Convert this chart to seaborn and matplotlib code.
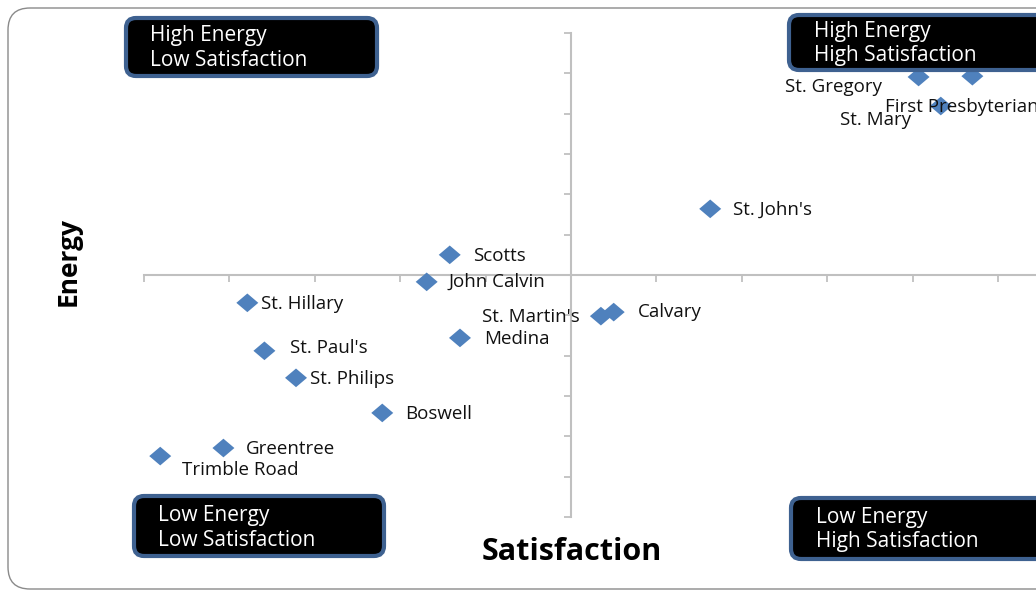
import numpy as np
import pandas as pd
import seaborn as sns
import matplotlib
matplotlib.use("Agg")
import matplotlib.pyplot as plt
import matplotlib.patches as mpatches
import matplotlib.transforms as mtransforms
from matplotlib.path import Path

# ---------------- data ----------------
churches = ["St. Gregory", "First Presbyterian", "St. Mary", "St. John's", "Scotts",
            "John Calvin", "St. Hillary", "St. Martin's", "Calvary", "Medina",
            "St. Paul's", "St. Philips", "Boswell", "Greentree", "Trimble Road"]
satisfaction = [4.07, 4.70, 4.33, 1.63, -1.42, -1.69, -3.79, 0.35, 0.50, -1.30,
                -3.59, -3.22, -2.21, -4.07, -4.81]
energy = [4.91, 4.93, 4.19, 1.64, 0.50, -0.17, -0.69, -1.02, -0.92, -1.56,
          -1.88, -2.55, -3.42, -4.29, -4.49]
quadrant_titles = [("High Energy", "Low Satisfaction"), ("High Energy", "High Satisfaction"),
                   ("Low Energy", "Low Satisfaction"), ("Low Energy", "High Satisfaction")]
x_ticks = list(range(-5, 6))
y_ticks = list(range(-6, 7))

df = pd.DataFrame({"Church": churches, "Satisfaction": satisfaction, "Energy": energy})

# ---------------- style ----------------
sns.set_style("white")
plt.rcParams["font.family"] = ["Open Sans", "DejaVu Sans"]

W, H = 1036, 590
fig = plt.figure(figsize=(W / 100, H / 100), dpi=100)
fig.patch.set_facecolor("white")
ax = fig.add_axes([0, 0, 1, 1])
ax.patch.set_alpha(0)

# pixel transform (origin top-left)
px = mtransforms.Affine2D().scale(1 / W, -1 / H).translate(0, 1) + fig.transFigure

# outer rounded chart border
fig.patches.append(mpatches.FancyBboxPatch((8, 8), 1070, 581,
                   boxstyle="round,pad=0,rounding_size=22", transform=px,
                   fc="none", ec="#8a8a8a", lw=1.0, zorder=0))

diamond = Path([(-1, 0), (0, 0.85), (1, 0), (0, -0.85), (-1, 0)],
               [Path.MOVETO, Path.LINETO, Path.LINETO, Path.LINETO, Path.CLOSEPOLY])

sns.scatterplot(data=df, x="Satisfaction", y="Energy", ax=ax, marker=diamond,
                s=250, color="#4F81BD", edgecolor="none", linewidth=0, zorder=5, legend=False)

for s in ["top", "right"]:
    ax.spines[s].set_visible(False)
ax.spines["left"].set_position(("data", 0))
ax.spines["bottom"].set_position(("data", 0))
ax.spines["left"].set_bounds(-6, 6)
ax.spines["bottom"].set_bounds(-5, 7)
for s in ["left", "bottom"]:
    ax.spines[s].set_color("#c0c0c0")
    ax.spines[s].set_linewidth(1.5)
ax.set_xticks(x_ticks)
ax.set_yticks(y_ticks)
ax.set_xticklabels([])
ax.set_yticklabels([])
ax.tick_params(axis="both", direction="out", length=5, width=1.3, color="#c0c0c0",
               left=True, bottom=True)
ax.set_xlabel("")
ax.set_ylabel("")

# axis limits chosen so that the plot lines up with the reference framing
ax.set_xlim(-571 / 85.4, 465 / 85.4)
ax.set_ylim(-315 / 40.33, 275 / 40.33)

# data labels (offsets in pixels: dx, dy-down, alignment)
label_offsets = [(-37, 10, "right"), (-87, 31, "left"), (-101, 14, "left"), (23, 1, "left"),
                 (23, 1, "left"), (22, 0, "left"), (14, 1, "left"), (-21, 1, "right"),
                 (24, 0, "left"), (24, 1, "left"), (26, -3, "left"), (14, 1, "left"),
                 (23, 1, "left"), (22, 1, "left"), (22, 14, "left")]
for name, xv, yv, (dx, dy, ha) in zip(churches, satisfaction, energy, label_offsets):
    ax.annotate(name, (xv, yv), xytext=(dx * 0.72, -dy * 0.72), textcoords="offset points",
                ha=ha, va="center", fontsize=13.5, color="#111111", zorder=6)

# axis titles
fig.text(572 / W, 1 - 552 / H, "Satisfaction", ha="center", va="center",
         fontsize=22, fontweight="bold", color="black")
fig.text(68 / W, 1 - 262 / H, "Energy", ha="center", va="center", rotation=90,
         fontsize=19, fontweight="bold", color="black")

# quadrant boxes (pixel layout)
box_layout = [(126, 18, 251, 58, 150, 35, 60), (789, 15, 270, 55, 814, 31, 55),
              (134, 496, 250, 60, 158, 516, 540), (791, 498, 270, 61, 816, 518, 542)]
for (l1, l2), (bx, by, bw, bh, tx, ty1, ty2) in zip(quadrant_titles, box_layout):
    fig.patches.append(mpatches.FancyBboxPatch((bx, by), bw, bh,
                       boxstyle="round,pad=0,rounding_size=10", transform=px,
                       fc="black", ec="#3E6190", lw=3.0, zorder=8))
    fig.text(tx / W, 1 - ty1 / H, l1, ha="left", va="center", color="white",
             fontsize=15, zorder=9)
    fig.text(tx / W, 1 - ty2 / H, l2, ha="left", va="center", color="white",
             fontsize=15, zorder=9)

fig.savefig("out.png", dpi=100, facecolor="white")
